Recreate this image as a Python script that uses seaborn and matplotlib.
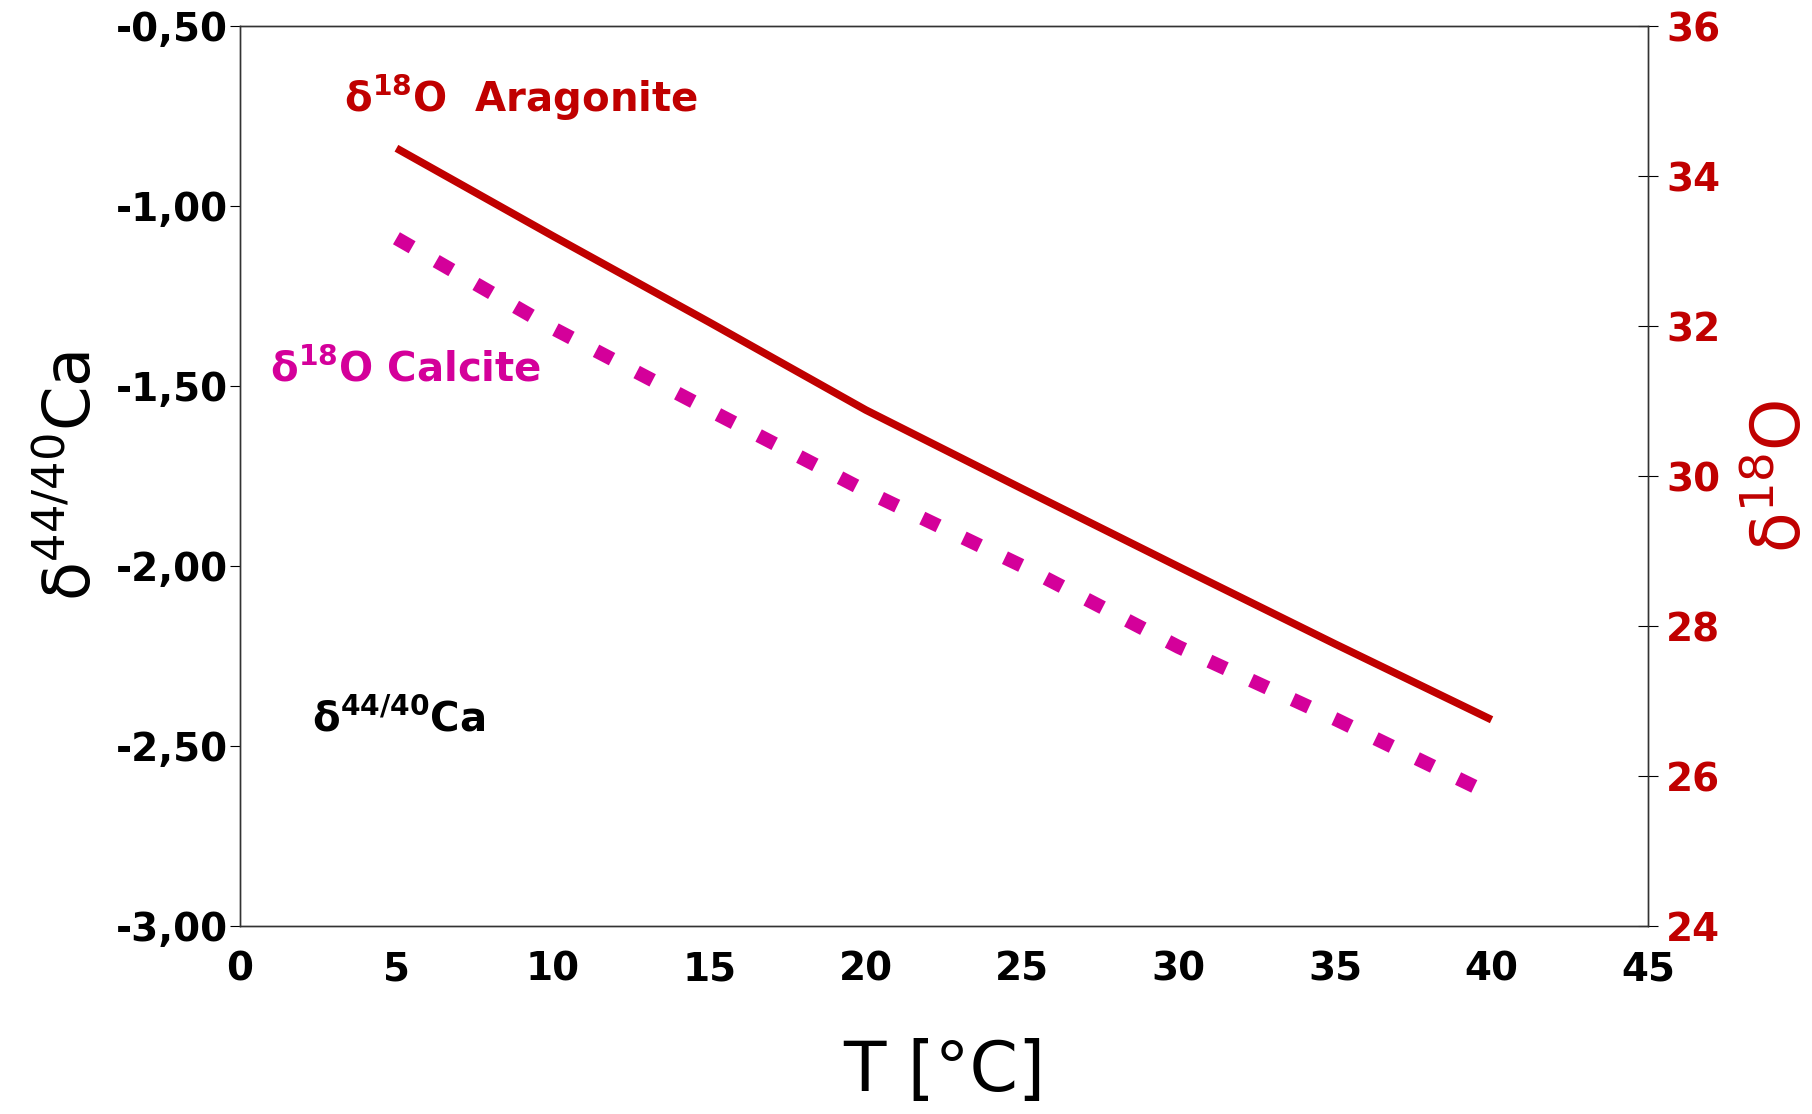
import matplotlib
matplotlib.use("Agg")
import matplotlib.pyplot as plt
import seaborn as sns
import pandas as pd

# ---- data ----
temps = [5, 10, 15, 20, 25, 30, 35, 40]
aragonite_d18o = [34.37, 33.20, 32.05, 30.88, 29.83, 28.79, 27.76, 26.75]
calcite_d18o = [33.17, 31.97, 30.88, 29.80, 28.80, 27.72, 26.76, 25.75]

x_ticks = [0, 5, 10, 15, 20, 25, 30, 35, 40, 45]
left_ticks = [-3.0, -2.5, -2.0, -1.5, -1.0, -0.5]
left_labels = ["-3,00", "-2,50", "-2,00", "-1,50", "-1,00", "-0,50"]
right_ticks = [24, 26, 28, 30, 32, 34, 36]

RED = "#C00000"
MAG = "#D4009A"

sns.set_style("white")
plt.rcParams["font.family"] = ["DejaVu Sans"]
plt.rcParams["mathtext.fontset"] = "dejavusans"
plt.rcParams["mathtext.default"] = "regular"
for k in ("text.color", "axes.labelcolor", "xtick.color", "ytick.color"):
    plt.rcParams[k] = "black"

fig = plt.figure(figsize=(18.12, 11.14), dpi=100)
ax = fig.add_axes([240/1812, 1 - 926/1114, 1408/1812, 900/1114])
ax2 = ax.twinx()

df = pd.DataFrame({"T": temps, "arag": aragonite_d18o, "calc": calcite_d18o})
sns.lineplot(data=df, x="T", y="arag", ax=ax2, color=RED, linewidth=5.5,
             solid_capstyle="butt")
sns.lineplot(data=df, x="T", y="calc", ax=ax2, color=MAG, linewidth=10,
             dashes=False)
ax2.lines[-1].set_dashes((1.3, 2.0))
ax2.lines[-1].set_dash_capstyle("butt")

ax.set_xlim(0, 45)
ax.set_ylim(-3.0, -0.5)
ax2.set_ylim(24, 36)

ax.set_xticks(x_ticks)
ax.set_xticklabels([str(v) for v in x_ticks], fontsize=28, fontweight="bold")
ax.set_yticks(left_ticks)
ax.set_yticklabels(left_labels, fontsize=28, fontweight="bold")
ax2.set_yticks(right_ticks)
ax2.set_yticklabels([str(v) for v in right_ticks], fontsize=28,
                    fontweight="bold", color=RED)

ax.tick_params(axis="x", direction="inout", length=15, width=0.8, pad=10)
ax.tick_params(axis="y", direction="out", length=7, width=0.8, pad=2, left=True)
ax2.tick_params(axis="y", direction="inout", length=14, width=0.8, pad=6, right=True)

for a in (ax, ax2):
    for s in a.spines.values():
        s.set_visible(True)
        s.set_color("#333333")
        s.set_linewidth(1.0)

ax.set_xlabel("T [°C]", fontsize=50, labelpad=36)
ax.set_ylabel(r"$\delta^{44/40}$Ca", fontsize=46, labelpad=8)
ax2.set_ylabel(r"$\delta^{18}$O", fontsize=48, color=RED, rotation=90,
               labelpad=20)

ax.text(0.074, 0.92, r"$\mathbf{\delta^{18}O}$  Aragonite", transform=ax.transAxes,
        fontsize=29, fontweight="bold", color=RED, ha="left", va="center")
ax.text(0.021, 0.618, r"$\mathbf{\delta^{18}O}$ Calcite", transform=ax.transAxes,
        fontsize=29, fontweight="bold", color=MAG, ha="left", va="center")
ax.text(0.051, 0.229, r"$\mathbf{\delta^{44/40}}$Ca", transform=ax.transAxes,
        fontsize=29, fontweight="bold", color="black", ha="left", va="center")

fig.savefig("out.png", dpi=100)
